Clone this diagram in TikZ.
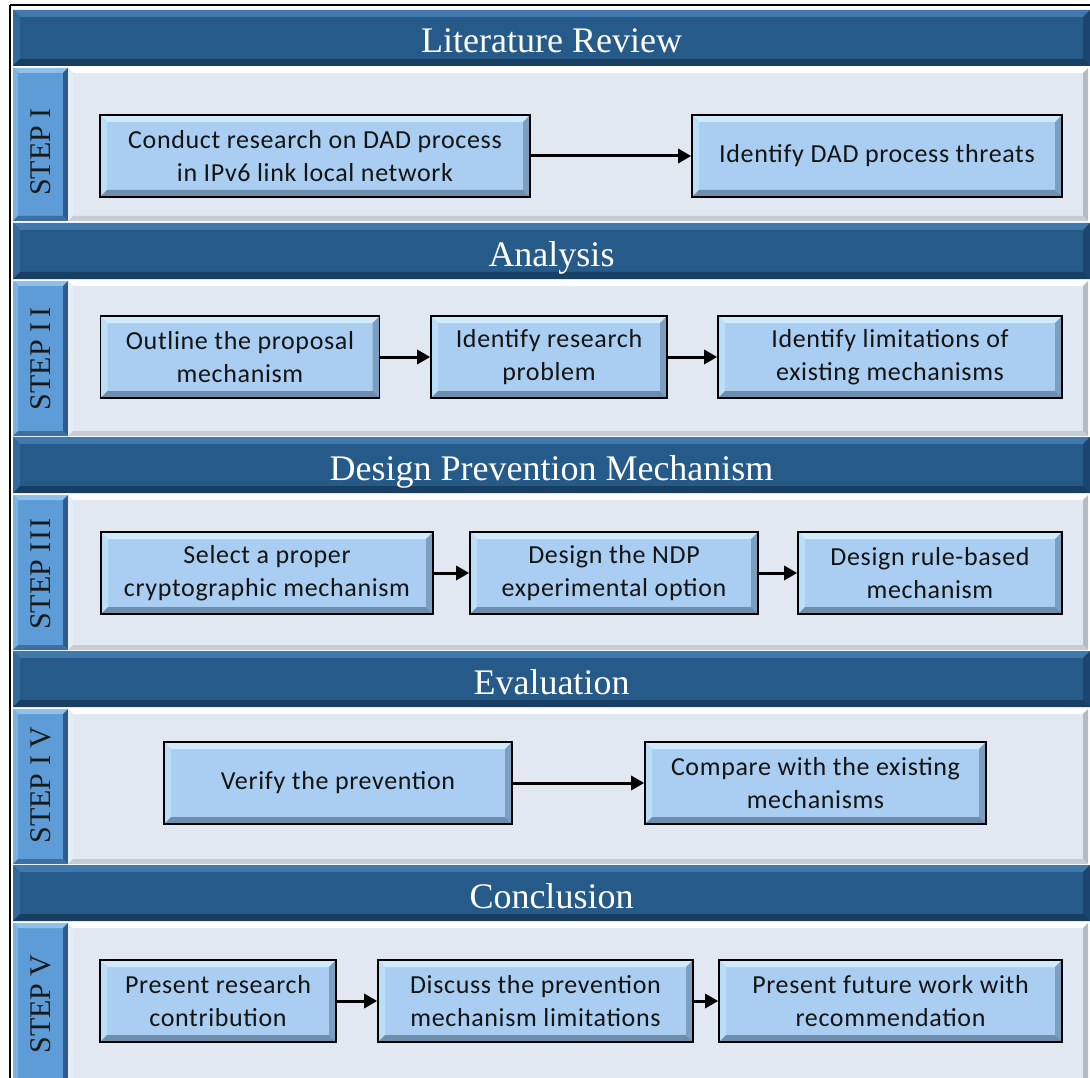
\documentclass[tikz,border=0pt]{standalone}
\usepackage{fontspec}
\setmainfont{Liberation Serif}
\newfontfamily\boxfont[LetterSpace=2.5]{Carlito}
\usetikzlibrary{arrows.meta}

% colour scheme
\definecolor{hdFace}{HTML}{265A89}
\definecolor{hdTop}{HTML}{4079AE}
\definecolor{hdLeft}{HTML}{336A9D}
\definecolor{hdRight}{HTML}{1C4670}
\definecolor{hdBot}{HTML}{183E62}
\definecolor{tbFace}{HTML}{5D9CD6}
\definecolor{tbTop}{HTML}{8EC0EA}
\definecolor{tbLeft}{HTML}{7CB2E2}
\definecolor{tbRight}{HTML}{2C5C8C}
\definecolor{tbBot}{HTML}{3D70A0}
\definecolor{pnFace}{HTML}{E1E8F2}
\definecolor{pnTop}{HTML}{FFFFFF}
\definecolor{pnLeft}{HTML}{E8EDF5}
\definecolor{pnRight}{HTML}{B5BBC5}
\definecolor{pnBot}{HTML}{C6CCD6}
\definecolor{bxFace}{HTML}{A9CEF1}
\definecolor{bxTop}{HTML}{D0EAFC}
\definecolor{bxLeft}{HTML}{BCDDF8}
\definecolor{bxRight}{HTML}{7C9EBF}
\definecolor{bxBot}{HTML}{6E8EAD}

\tikzset{
  % four bevel trapezoids drawn inside a node: top, left, right, bottom, width
  bevel/.style n args={5}{path picture={
    \coordinate (bvnw) at (path picture bounding box.north west);
    \coordinate (bvne) at (path picture bounding box.north east);
    \coordinate (bvsw) at (path picture bounding box.south west);
    \coordinate (bvse) at (path picture bounding box.south east);
    \fill[#1] (bvnw) -- (bvne) -- ([xshift=-#5,yshift=-#5]bvne) -- ([xshift=#5,yshift=-#5]bvnw) -- cycle;
    \fill[#2] (bvnw) -- ([xshift=#5,yshift=-#5]bvnw) -- ([xshift=#5,yshift=#5]bvsw) -- (bvsw) -- cycle;
    \fill[#3] (bvne) -- (bvse) -- ([xshift=-#5,yshift=#5]bvse) -- ([xshift=-#5,yshift=-#5]bvne) -- cycle;
    \fill[#4] (bvsw) -- ([xshift=#5,yshift=#5]bvsw) -- ([xshift=-#5,yshift=#5]bvse) -- (bvse) -- cycle;
  }},
  header/.style={fill=hdFace, bevel={hdTop}{hdLeft}{hdRight}{hdBot}{7pt},
    minimum width=1077pt, minimum height=56pt, inner sep=0pt,
    text height=32pt, text depth=2pt,
    text=white, font=\fontsize{36}{40}\selectfont},
  tab/.style={fill=tbFace, bevel={tbTop}{tbLeft}{tbRight}{tbBot}{5pt},
    minimum width=55pt, inner sep=0pt},
  panel/.style={fill=pnFace, bevel={pnTop}{pnLeft}{pnRight}{pnBot}{5pt},
    minimum width=1020pt, inner sep=0pt},
  steplabel/.style={rotate=90, text=black!90, font=\fontsize{30}{32}\selectfont, inner sep=0pt},
  stepbox/.style={fill=bxFace, bevel={bxTop}{bxLeft}{bxRight}{bxBot}{7pt},
    draw=black, line width=1.6pt, minimum height=82pt, inner sep=0pt,
    align=center, text=black!92, font=\boxfont\fontsize{26}{33}\selectfont},
  conn/.style={draw=black, line width=3pt, -{Triangle[length=13pt,width=14pt]}},
}

\begin{document}
\begin{tikzpicture}[x=1pt,y=-1pt]
\useasboundingbox (0,0) rectangle (1090,1078);
\fill[white] (0,0) rectangle (1090,1078);

% outer frame
\draw[line width=2.4pt] (10,5) -- (1100,5);
\draw[line width=2.4pt] (10,5) -- (10,1090);

% section bars, step tabs and panels
\node[header] (h1) at (551.5,38) {Literature Review};
\node[tab, minimum height=153pt] (t1) at (40.5,144.5) {};
\node[panel, minimum height=153pt] (p1) at (578,144.5) {};
\node[steplabel] (s1) at (41,152) {STEP I};

\node[header] (h2) at (551.5,251) {Analysis};
\node[tab, minimum height=155pt] (t2) at (40.5,358.5) {};
\node[panel, minimum height=155pt] (p2) at (578,358.5) {};
\node[steplabel] (s2) at (41,359) {STEP I\kern5pt I};

\node[header] (h3) at (551.5,465) {Design Prevention Mechanism};
\node[tab, minimum height=155pt] (t3) at (40.5,572.5) {};
\node[panel, minimum height=155pt] (p3) at (578,572.5) {};
\node[steplabel] (s3) at (41,574) {STEP I\kern2pt I\kern2pt I};

\node[header] (h4) at (551.5,679) {Evaluation};
\node[tab, minimum height=155pt] (t4) at (40.5,786.5) {};
\node[panel, minimum height=155pt] (p4) at (578,786.5) {};
\node[steplabel] (s4) at (41,785) {STEP I V};

\node[header] (h5) at (551.5,893) {Conclusion};
\node[tab, minimum height=162pt] (t5) at (40.5,1004) {};
\node[panel, minimum height=162pt] (p5) at (578,1004) {};
\node[steplabel] (s5) at (41,1004) {STEP V};

% step I
\node[stepbox, minimum width=430pt] (a1) at (315,156) {Conduct research on DAD process\\in IPv6 link local network};
\node[stepbox, minimum width=370pt] (a2) at (877,156) {Identify DAD process threats};
\draw[conn] (a1.east) -- (a2.west);

% step II
\node[stepbox, minimum width=279pt] (b1) at (240,357) {Outline the proposal\\mechanism};
\node[stepbox, minimum width=236pt] (b2) at (549,357) {Identify research\\problem};
\node[stepbox, minimum width=344pt] (b3) at (890,357) {Identify limitations of\\existing mechanisms};
\draw[conn] (b1.east) -- (b2.west);
\draw[conn] (b2.east) -- (b3.west);

% step III
\node[stepbox, minimum width=332pt] (c1) at (267,573) {Select a proper\\cryptographic mechanism};
\node[stepbox, minimum width=288pt] (c2) at (614,573) {Design the NDP\\experimental option};
\node[stepbox, minimum width=264pt] (c3) at (930,573) {Design rule-based\\mechanism};
\draw[conn] (c1.east) -- (c2.west);
\draw[conn] (c2.east) -- (c3.west);

% step IV
\node[stepbox, minimum width=348pt] (d1) at (338,783) {Verify the prevention};
\node[stepbox, minimum width=341pt] (d2) at (815.5,783) {Compare with the existing\\mechanisms};
\draw[conn] (d1.east) -- (d2.west);

% step V
\node[stepbox, minimum width=236pt] (e1) at (218,1001) {Present research\\contribution};
\node[stepbox, minimum width=315pt] (e2) at (535.5,1001) {Discuss the prevention\\mechanism limitations};
\node[stepbox, minimum width=343pt] (e3) at (890.5,1001) {Present future work with\\recommendation};
\draw[conn] (e1.east) -- (e2.west);
\draw[conn] (e2.east) -- (e3.west);
\end{tikzpicture}
\end{document}
